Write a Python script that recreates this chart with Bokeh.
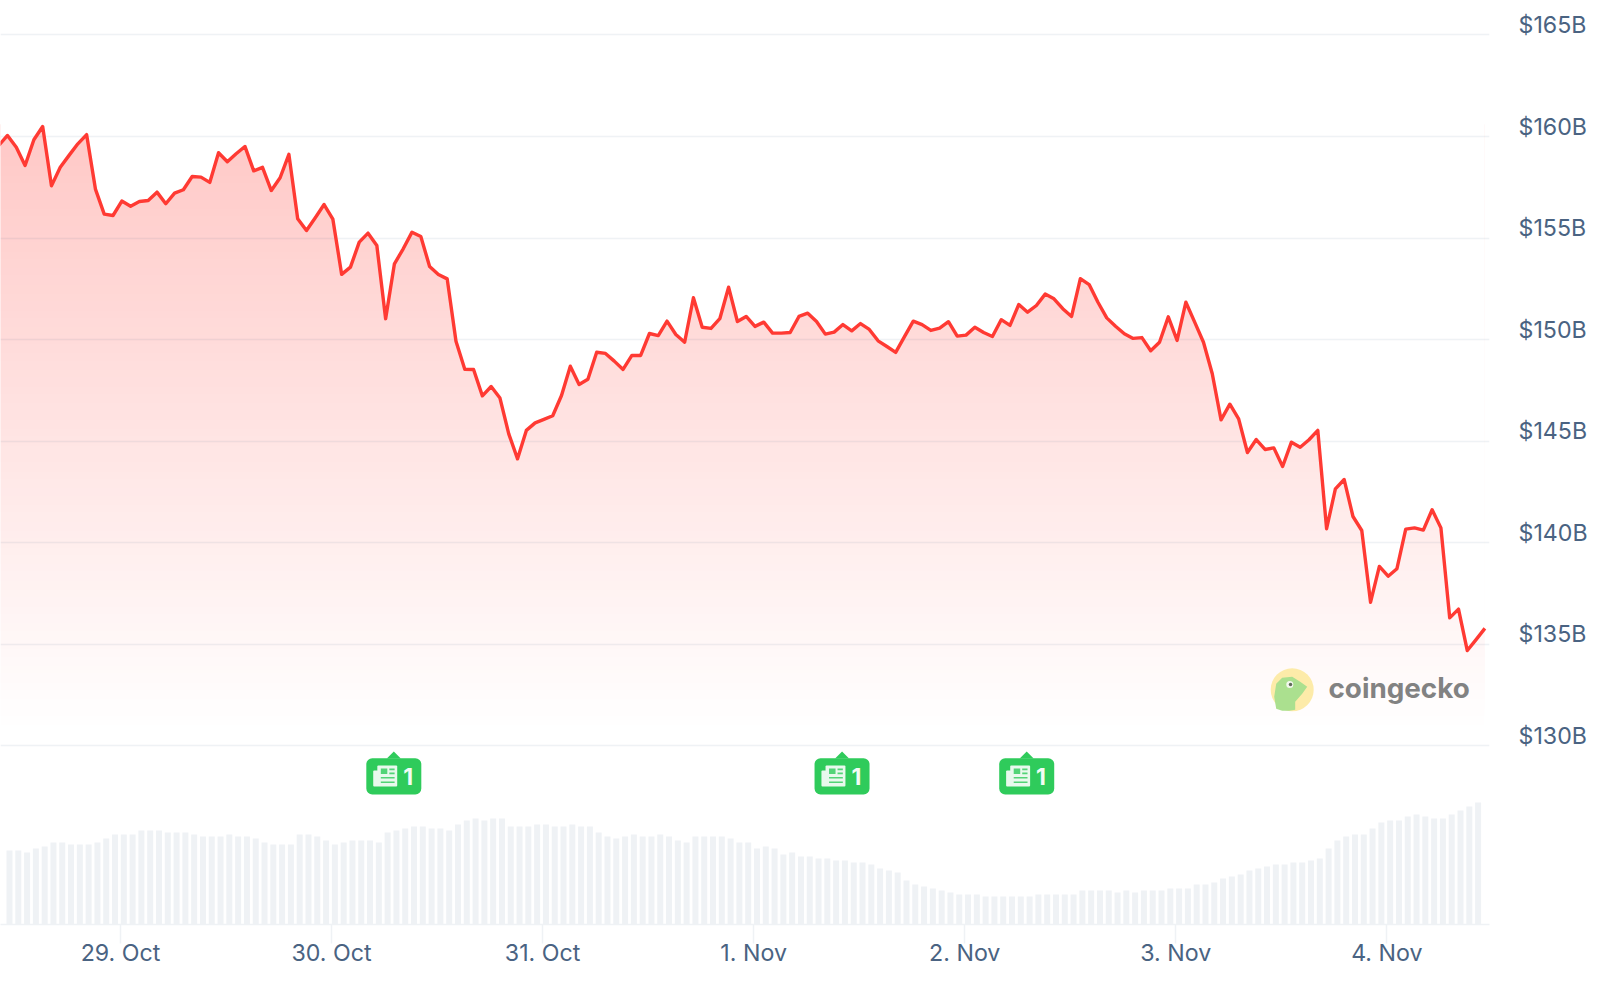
import numpy as np
from bokeh.core.properties import value
from bokeh.embed import file_html
from bokeh.models import FixedTicker, LinearAxis, PrintfTickFormatter, Range1d
from bokeh.plotting import figure
from bokeh.resources import INLINE

# --- data -----------------------------------------------------------------
mcap = [159.56,160.05,159.47,158.57,159.84,160.49,157.57,158.49,159.07,159.64,
        160.09,157.41,156.18,156.11,156.82,156.57,156.80,156.85,157.26,156.69,
        157.21,157.38,158.03,158.00,157.74,159.20,158.76,159.15,159.51,158.31,
        158.48,157.34,157.97,159.12,155.95,155.37,156.00,156.65,155.93,153.21,
        153.57,154.80,155.24,154.63,151.03,153.73,154.47,155.29,155.08,153.60,
        153.21,152.99,149.92,148.54,148.53,147.23,147.69,147.12,145.36,144.13,
        145.53,145.90,146.07,146.25,147.25,148.69,147.79,148.05,149.38,149.32,
        148.94,148.53,149.22,149.22,150.30,150.20,150.91,150.25,149.87,152.06,
        150.61,150.55,151.03,152.58,150.89,151.14,150.65,150.86,150.32,150.32,
        150.35,151.14,151.30,150.89,150.27,150.37,150.74,150.43,150.79,150.50,
        149.94,149.66,149.37,150.15,150.91,150.74,150.45,150.56,150.88,150.17,
        150.22,150.61,150.35,150.15,150.98,150.70,151.73,151.35,151.68,152.24,
        152.01,151.52,151.14,153.00,152.71,151.84,151.07,150.66,150.29,150.06,
        150.10,149.45,149.87,151.12,149.96,151.84,150.86,149.87,148.32,146.05,
        146.82,146.10,144.44,145.08,144.59,144.67,143.75,144.95,144.70,145.07,
        145.53,140.69,142.65,143.11,141.29,140.60,137.07,138.83,138.35,138.72,
        140.67,140.73,140.62,141.62,140.73,136.30,136.73,134.69,135.23,135.78]

volume = [74,74,72,76,78,82,82,80,80,80,82,86,90,90,90,94,94,94,92,92,92,90,88,88,88,
          90,88,88,86,82,80,80,80,90,90,88,84,80,82,84,84,84,82,92,94,
          96,98,98,96,96,94,100,104,106,104,106,106,98,98,98,100,100,98,
          98,100,98,98,92,88,86,88,90,88,88,90,88,84,82,88,88,88,88,86,82,82,76,78,76,
          70,72,68,68,66,66,64,64,62,62,60,56,54,52,44,40,38,36,34,32,30,30,30,28,28,28,28,28,
          28,30,30,30,30,30,34,34,34,34,32,34,32,34,34,34,36,36,36,40,40,42,46,48,50,54,56,58,
          60,60,62,62,64,66,76,84,88,90,90,96,102,104,104,108,110,108,106,106,110,114,118,122]

tick_labels = ["29. Oct", "30. Oct", "31. Oct", "1. Nov", "2. Nov", "3. Nov", "4. Nov"]
first_tick = 13.85          # position of 29. Oct on the hourly index
y_ticks = [130, 135, 140, 145, 150, 155, 160, 165]
news_at = [44.93, 95.9, 116.9]
news_counts = ["1", "1", "1"]

# --- layout constants -----------------------------------------------------
FRAME_W, FRAME_H = 1489, 924
FIG_W, FIG_H = 1592, 975
PX_PER_H = 8.794
X0 = 0.205
X1 = X0 + FRAME_W / PX_PER_H
PX_PER_B = 20.31
Y0 = 130 - (FRAME_H - 745.3) / PX_PER_B
Y1 = 130 + 745.3 / PX_PER_B
LABEL_SHIFT = 10 / PX_PER_B
TEXT = "#4a6382"
RULE = "#eff2f5"
RED = "#ff3a33"
FONT = "Inter"

hours = np.arange(len(mcap), dtype=float)
bar_x = np.arange(len(volume)) + 1.228

p = figure(width=FIG_W, height=FIG_H, output_backend="svg", toolbar_location=None,
           x_range=Range1d(X0, X1), y_range=Range1d(Y0, Y1),
           min_border_left=0, min_border_top=0,
           min_border_right=FIG_W - FRAME_W, min_border_bottom=FIG_H - FRAME_H,
           outline_line_color=None, background_fill_color="white", border_fill_color="white",
           y_axis_location=None, margin=(0, 0, 0, 0))

p.extra_y_ranges = {"vol": Range1d(0, FRAME_H),
                    "lab": Range1d(Y0 - LABEL_SHIFT, Y1 - LABEL_SHIFT),
                    "px": Range1d(FRAME_H, 0)}
p.extra_x_ranges = {"px": Range1d(0, FRAME_W)}

# gradient: transparent red, from the top of the curve down to just above 130B
grad_top, grad_bottom = 160.6, 130.75
grad_left = X0 - 1
rows = 256
alpha = (np.linspace(0, 0.28, rows)).reshape(rows, 1)
rgba = np.zeros((rows, 2, 4), dtype=np.uint8)
rgba[..., 0], rgba[..., 1], rgba[..., 2] = 255, 58, 51
rgba[..., 3] = np.round(alpha * 255).astype(np.uint8)
img = rgba.view(dtype=np.uint32).reshape(rows, 2)
p.image_rgba(image=[img], x=grad_left, y=grad_bottom, dw=169 - grad_left, dh=grad_top - grad_bottom, level="image")
# white above the curve, so the gradient only shows below it
p.varea(x=hours, y1=mcap, y2=Y1 + 1, fill_color="white", level="image")

# grid sits over the fill, as a light multiply
p.ygrid.ticker = FixedTicker(ticks=y_ticks)
p.ygrid.grid_line_color = "#375c82"
p.ygrid.grid_line_alpha = 0.08
p.ygrid.grid_line_width = 1.6
p.ygrid.level = "underlay"
p.xgrid.visible = False

# volume
p.vbar(x=bar_x, top=volume, bottom=0, width=6.0 / PX_PER_H, y_range_name="vol",
       fill_color="#eff2f5", line_color=None)

# price line
p.line(hours, mcap, line_color=RED, line_width=3.4, line_join="round")

# x axis
p.xaxis.ticker = FixedTicker(ticks=[first_tick + 24 * k for k in range(len(tick_labels))])
p.xaxis.major_label_overrides = {first_tick + 24 * k: t for k, t in enumerate(tick_labels)}
p.xaxis.axis_line_color = RULE
p.xaxis.axis_line_width = 1.5
p.xaxis.major_tick_line_color = RULE
p.xaxis.major_tick_line_width = 1.5
p.xaxis.major_tick_in = 0
p.xaxis.major_tick_out = 19
p.xaxis.minor_tick_line_color = None
p.xaxis.major_label_standoff = -5
p.xaxis.major_label_text_font = FONT
p.xaxis.major_label_text_font_size = "23.2px"
p.xaxis.major_label_text_color = TEXT

# right axis
ax = LinearAxis(y_range_name="lab", ticker=FixedTicker(ticks=y_ticks),
                formatter=PrintfTickFormatter(format="$%dB"),
                axis_line_color=None, major_tick_line_color=None, minor_tick_line_color=None,
                major_label_standoff=23, major_label_text_font=FONT,
                major_label_text_font_size="23.2px", major_label_text_color=TEXT)
p.add_layout(ax, "right")

# news badges
for h, n in zip(news_at, news_counts):
    cx = (h - X0) * PX_PER_H
    kw = dict(x_range_name="px", y_range_name="px", line_color=None)
    p.patch([cx - 7, cx, cx + 7], [758, 751, 758], fill_color="#2fcb5b", **kw)
    p.quad(left=[cx - 27.5], right=[cx + 27.5], top=[757.7], bottom=[794], border_radius=6,
           fill_color="#2fcb5b", **kw)
    # newspaper icon
    p.quad(left=[cx - 20.6], right=[cx - 15.5], top=[770], bottom=[786], border_radius=1,
           fill_color="#e8f9ed", **kw)
    p.quad(left=[cx - 16.5], right=[cx + 3.4], top=[765], bottom=[786], border_radius=1,
           fill_color="#e8f9ed", **kw)
    p.quad(left=[cx - 13, cx - 4.5, cx - 4.5, cx - 13, cx - 13],
           right=[cx - 6.5, cx + 0.8, cx + 0.8, cx + 0.8, cx + 0.8],
           top=[768, 768, 772, 776.5, 781],
           bottom=[773.5, 769.8, 773.8, 778, 782.5],
           fill_color="#52d477", **kw)
    p.text(x=[cx + 14.3], y=[775.5], text=[n], text_font=value(FONT), text_font_size="23px",
           text_font_style="bold", text_color="#f2fcf5", text_align="center",
           text_baseline="middle", x_range_name="px", y_range_name="px")

# watermark
lx, ly = 1291.7, 689.3
kw = dict(x_range_name="px", y_range_name="px")
p.scatter([lx], [ly], size=43, marker="circle", fill_color="#fdeba9", line_color=None, **kw)
gx = [-16, -18, -16, -10, 0, 8, 15, 10, 3, 3, -3, -10]
gy = [19, 7, -6, -12, -13, -8, -3, 4, 12, 20, 21, 21]
p.patch([lx + v for v in gx], [ly + v for v in gy], fill_color="#abe08f", line_color=None, **kw)
p.scatter([lx - 2.4], [ly - 5.3], size=7, marker="circle", fill_color="#f2f7ee", line_color=None, **kw)
p.scatter([lx - 1.7], [ly - 5.3], size=3.5, marker="circle", fill_color="#5f6b5a", line_color=None, **kw)
p.text(x=[1328], y=[687], text=["coingecko"], text_font=value("Inter"), text_font_size="27.8px",
       text_font_style="bold", text_color="#828282", text_align="left", text_baseline="middle", **kw)

open("out.html", "w").write(file_html(p, INLINE))
